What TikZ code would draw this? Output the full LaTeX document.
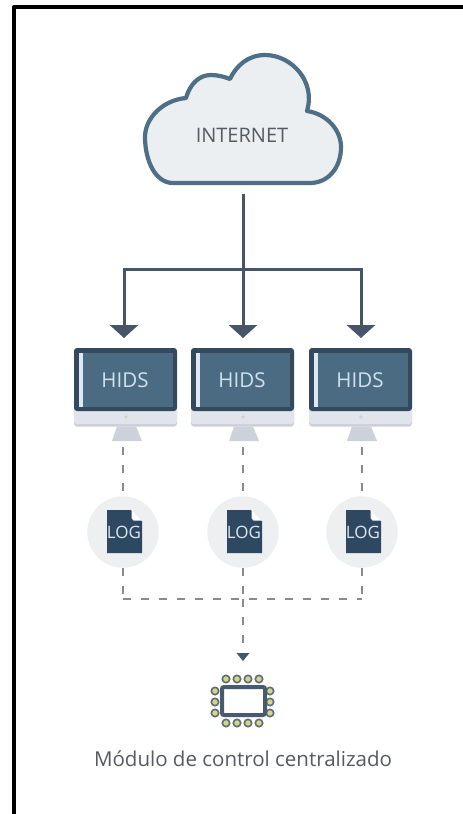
\documentclass[tikz,border=0pt]{standalone}
\usepackage{fontspec}
\setmainfont{Open Sans}
\usetikzlibrary{arrows.meta,calc}
\definecolor{cloudline}{HTML}{4F6F87}
\definecolor{cloudfill}{HTML}{ECEFF1}
\definecolor{arrowcol}{HTML}{465569}
\definecolor{mdark}{HTML}{34495E}
\definecolor{mscreen}{HTML}{4B6B83}
\definecolor{mbar}{HTML}{DCE8F2}
\definecolor{msilver}{HTML}{E1E5EB}
\definecolor{mshadow}{HTML}{CBD0D8}
\definecolor{mstand}{HTML}{CDD2DA}
\definecolor{hidstext}{HTML}{CFE2EE}
\definecolor{dashcol}{HTML}{8A8A8A}
\definecolor{logcirc}{HTML}{EDEFF0}
\definecolor{logdoc}{HTML}{2F4862}
\definecolor{labeltext}{HTML}{555B62}
\definecolor{pinfill}{HTML}{D6D67E}
\tikzset{
  x=1pt,y=-1pt,
  flow/.style={draw=arrowcol,line width=3pt,-{Triangle[width=28pt,length=13pt]}},
  trunk/.style={draw=arrowcol,line width=3pt},
  dashline/.style={draw=dashcol,line width=2pt,dash pattern=on 8pt off 10pt},
  logcircle/.style={circle,fill=logcirc,minimum size=71.4pt,inner sep=0pt},
  logtext/.style={text=mbar,font=\fontsize{17}{17}\selectfont,inner sep=0pt},
  hidstextstyle/.style={text=hidstext,font=\fontsize{20.5}{21}\selectfont,inner sep=0pt},
  pin/.style={circle,draw=mdark!80,fill=pinfill,line width=1.6pt,minimum size=7.4pt,inner sep=0pt},
}
\newcommand{\monitor}[2]{%
  \fill[mshadow,rounded corners=3pt] (#1-51.5,411) rectangle (#1+51.5,426.5);
  \fill[msilver,rounded corners=2.5pt] (#1-51.5,408) rectangle (#1+51.5,424);
  \fill[mdark,rounded corners=3pt] (#1-51.5,348) rectangle (#1+51.5,411);
  \fill[mscreen] (#1-46.5,353) rectangle (#1+47.5,407);
  \fill[mbar] (#1-46.5,353) rectangle (#1-42.5,407);
  \fill[mstand] (#1-8.5,426.5) -- (#1+10.5,426.5) -- (#1+16.5,441) -- (#1-13.5,441) -- cycle;
  \fill[mshadow] (#1+0.5,417) circle (1.9);
  \node[hidstextstyle] (hids#2) at (#1-0.5,380) {HIDS};
}
\newcommand{\logicon}[2]{%
  \node[logcircle] (logc#2) at (#1,532) {};
  \fill[logdoc] (#1-16,510) -- (#1+8,510) -- (#1+19,521) -- (#1+19,553) -- (#1-16,553) -- cycle;
  \fill[white] (#1+8.5,510) -- (#1+19,520.5) -- (#1+10.5,520.5) -- (#1+8.5,518) -- cycle;
  \node[logtext] (logt#2) at (#1+1,532) {LOG};
}
\begin{document}
\begin{tikzpicture}
\useasboundingbox (0,0) rectangle (463,814);
\fill[white] (0,0) rectangle (463,814);
\draw[black,line width=4pt,line join=round] (14,814) -- (14,7) -- (463,7);
\draw[draw=cloudline,fill=cloudfill,line width=4.2pt,line join=round]
  (173,183)
  .. controls (155,183) and (145,160) .. (145,137)
  .. controls (145,118) and (163,100) .. (186,98)
  .. controls (190,84) and (199,75) .. (211,75)
  .. controls (218,75) and (225,77) .. (230,79)
  .. controls (236,66) and (248,55) .. (265,55)
  .. controls (292,55) and (316,82) .. (307,111)
  .. controls (327,114) and (341,130) .. (341,147)
  .. controls (341,168) and (328,183) .. (310,183)
  -- cycle;
\node[text=labeltext,font=\fontsize{20}{20}\selectfont,inner sep=0pt] (internet) at (242,135) {INTERNET};
\coordinate (cloudbot) at (243,194);
\coordinate (bus) at (243,269);
\coordinate (busl) at (124,269);
\coordinate (busr) at (361,269);
\monitor{125.5}{1}
\monitor{242.5}{2}
\monitor{360.5}{3}
\coordinate (tip1) at (124,338);
\coordinate (tip2) at (243,338);
\coordinate (tip3) at (361,338);
\draw[trunk] (cloudbot) -- (bus);
\draw[flow] (bus) -- (tip2);
\draw[flow,line join=miter] (bus) -- (busl) -- (tip1);
\draw[flow,line join=miter] (bus) -- (busr) -- (tip3);
\logicon{123}{1}
\logicon{243}{2}
\logicon{362}{3}
\coordinate (dl) at (123,599);
\coordinate (dc) at (243,599);
\coordinate (dr) at (362,599);
\draw[dashline] (123,447) -- (logc1.north);
\draw[dashline] (243,447) -- (logc2.north);
\draw[dashline] (362,447) -- (logc3.north);
\draw[dashline] (logc1.south) -- (dl);
\draw[dashline] (logc2.south) -- (dc);
\draw[dashline] (logc3.south) -- (dr);
\draw[dashline] (dl) -- (dr);
\draw[dashline] (dc) -- (243,647);
\fill[arrowcol] (236.5,653) -- (249.5,653) -- (243,661) -- cycle;
\foreach \x/\n in {226/1,237/2,248/3,259/4}{
  \node[pin] (pt\n) at (\x,679) {};
  \node[pin] (pb\n) at (\x,723) {};
}
\foreach \y/\n in {691/1,702/2,713/3}{
  \node[pin] (pl\n) at (215,\y) {};
  \node[pin] (pr\n) at (270,\y) {};
}
\draw[draw=mdark!90,fill=white,line width=4pt,rounded corners=2pt] (222,687) rectangle (265,715);
\node[text=labeltext,font=\fontsize{20.5}{21}\selectfont,inner sep=0pt] (modlabel) at (243,759) {Módulo de control centralizado};
\end{tikzpicture}
\end{document}
